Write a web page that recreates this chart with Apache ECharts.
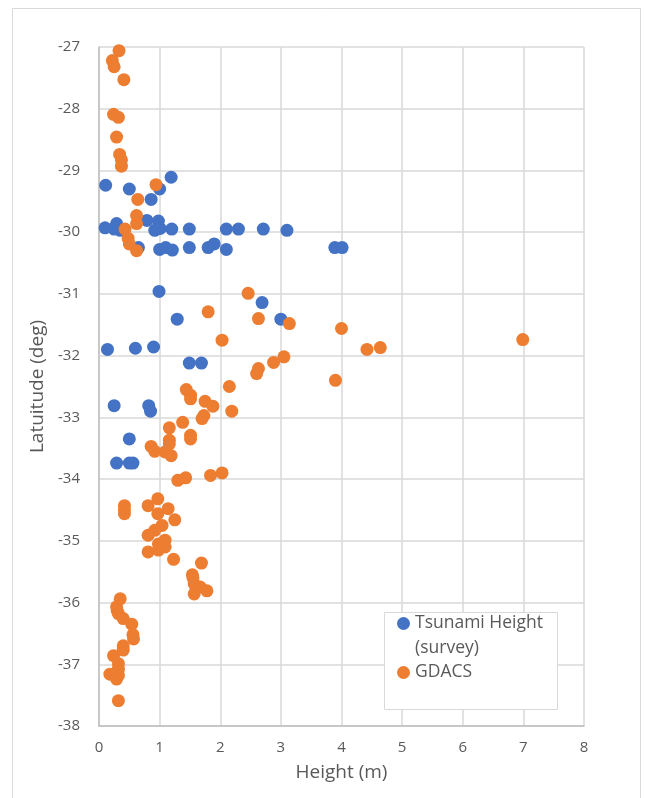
<!DOCTYPE html>
<html>
<head>
<meta charset="utf-8">
<script src="https://cdn.jsdelivr.net/npm/echarts@6/dist/echarts.min.js"></script>
<style>
html,body{margin:0;padding:0;background:#fff;}
#chart{width:645px;height:798px;}
</style>
</head>
<body>
<div id="chart"></div>
<script>
// Tsunami Height (survey)
const surveyHeight = [0.11,0.5,1.19,1.0,0.86,
  0.1,0.29,0.35,0.25,0.79,0.98,0.92,1.01,1.2,1.49,2.1,2.3,2.71,3.1,
  0.65,1.0,1.1,1.21,1.49,1.8,1.9,2.1,3.89,4.01,
  0.99,2.69,1.29,3.0,
  0.14,0.6,0.9,1.49,1.69,
  0.25,0.82,0.85,
  0.5,0.29,0.5,0.56];
const surveyLat = [-29.24,-29.30,-29.11,-29.30,-29.47,
  -29.93,-29.86,-29.97,-29.95,-29.81,-29.82,-29.97,-29.94,-29.95,-29.95,-29.95,-29.95,-29.95,-29.97,
  -30.25,-30.28,-30.25,-30.29,-30.25,-30.25,-30.19,-30.28,-30.25,-30.25,
  -30.96,-31.14,-31.41,-31.41,
  -31.90,-31.88,-31.86,-32.12,-32.12,
  -32.81,-32.81,-32.90,
  -33.35,-33.74,-33.74,-33.74];
// GDACS
const gdacsHeight = [0.33,0.22,0.25,0.41,
  0.24,0.32,0.29,0.34,0.37,0.37,
  0.94,0.64,0.62,0.62,0.43,0.48,0.5,0.62,
  2.46,1.8,2.63,3.14,4.0,2.03,6.99,4.42,4.64,
  3.05,2.88,2.63,2.6,3.9,2.15,1.44,1.51,1.51,1.75,1.88,2.19,1.73,1.7,1.38,1.16,
  1.51,1.51,1.16,1.16,0.86,0.92,1.09,1.19,
  1.3,1.43,1.84,2.03,
  0.42,0.42,0.42,
  0.97,0.81,1.14,0.97,1.25,1.04,0.92,0.81,1.09,0.98,1.09,0.98,0.81,1.23,1.69,
  1.54,1.55,1.57,1.67,1.78,1.57,
  0.35,0.29,0.3,0.32,0.4,0.54,0.56,0.57,0.4,0.4,0.24,0.32,0.32,0.18,0.32,0.29,0.32];
const gdacsLat = [-27.06,-27.22,-27.32,-27.53,
  -28.09,-28.14,-28.46,-28.74,-28.83,-28.93,
  -29.23,-29.47,-29.73,-29.86,-29.95,-30.10,-30.19,-30.30,
  -30.99,-31.29,-31.40,-31.48,-31.56,-31.75,-31.74,-31.90,-31.87,
  -32.02,-32.11,-32.21,-32.29,-32.40,-32.50,-32.55,-32.64,-32.70,-32.74,-32.82,-32.90,-32.97,-33.02,-33.08,-33.17,
  -33.29,-33.35,-33.37,-33.43,-33.47,-33.55,-33.56,-33.62,
  -34.02,-33.98,-33.94,-33.90,
  -34.43,-34.50,-34.56,
  -34.32,-34.43,-34.48,-34.56,-34.66,-34.75,-34.83,-34.91,-34.99,-35.05,-35.10,-35.15,-35.18,-35.30,-35.36,
  -35.55,-35.60,-35.70,-35.75,-35.81,-35.86,
  -35.94,-36.07,-36.13,-36.18,-36.26,-36.35,-36.52,-36.59,-36.70,-36.77,-36.86,-36.99,-37.08,-37.16,-37.18,-37.24,-37.59];

const seriesNames = ['Tsunami Height\n(survey)', 'GDACS'];
const xTitle = 'Height (m)';
const yTitle = 'Latuitude (deg)';

const zip = (a, b) => a.map((v, i) => [v, b[i]]);
const FONT = 'Open Sans';
const chart = echarts.init(document.getElementById('chart'), null, {renderer: 'canvas'});
chart.setOption({
  animation: false,
  backgroundColor: '#fff',
  textStyle: {fontFamily: FONT},
  grid: {left: 99, top: 47, right: 61, bottom: 72, containLabel: false},
  graphic: [
    {type: 'rect', shape: {x: 12.5, y: 8.5, width: 628, height: 800}, style: {fill: 'none', stroke: '#D9D9D9', lineWidth: 1}, silent: true, z: -10},
    {type: 'rect', shape: {x: 384.5, y: 612.5, width: 173, height: 97}, style: {fill: '#fff', stroke: '#D9D9D9', lineWidth: 1}, silent: true, z: 5}
  ],
  legend: {
    orient: 'vertical', left: 397, top: 586, z: 6, padding: 0,
    itemWidth: 13, itemHeight: 13, itemGap: -1, itemTextGap: 5,
    icon: 'circle',
    textStyle: {fontFamily: FONT, fontSize: 17.5, color: '#595959', lineHeight: 25},
    formatter: function (name) { return name === seriesNames[0] ? ' \n' + name : name; },
    data: seriesNames
  },
  xAxis: {
    type: 'value', min: 0, max: 8, interval: 1,
    name: xTitle, nameLocation: 'middle', nameGap: 37,
    nameTextStyle: {fontFamily: FONT, fontSize: 19, color: '#595959'},
    axisLine: {show: true, lineStyle: {color: '#BFBFBF', width: 1.5}},
    axisTick: {show: false},
    axisLabel: {fontFamily: FONT, fontSize: 15, color: '#595959', margin: 14},
    splitLine: {show: true, lineStyle: {color: '#D9D9D9', width: 1.5}}
  },
  yAxis: {
    type: 'value', min: -38, max: -27, interval: 1,
    name: yTitle, nameLocation: 'middle', nameGap: 51, nameRotate: 90,
    nameTextStyle: {fontFamily: FONT, fontSize: 19, color: '#595959'},
    axisLine: {show: true, onZero: false, lineStyle: {color: '#BFBFBF', width: 1.5}},
    axisTick: {show: false},
    axisLabel: {fontFamily: FONT, fontSize: 15, color: '#595959', margin: 19},
    splitLine: {show: true, lineStyle: {color: '#D9D9D9', width: 1.5}}
  },
  series: [
    {name: seriesNames[0], type: 'scatter', symbol: 'circle', symbolSize: 13,
     itemStyle: {color: '#4472C4', opacity: 1}, data: zip(surveyHeight, surveyLat), z: 2},
    {name: seriesNames[1], type: 'scatter', symbol: 'circle', symbolSize: 13,
     itemStyle: {color: '#ED7D31', opacity: 1}, data: zip(gdacsHeight, gdacsLat), z: 3}
  ]
});
</script>
</body>
</html>
